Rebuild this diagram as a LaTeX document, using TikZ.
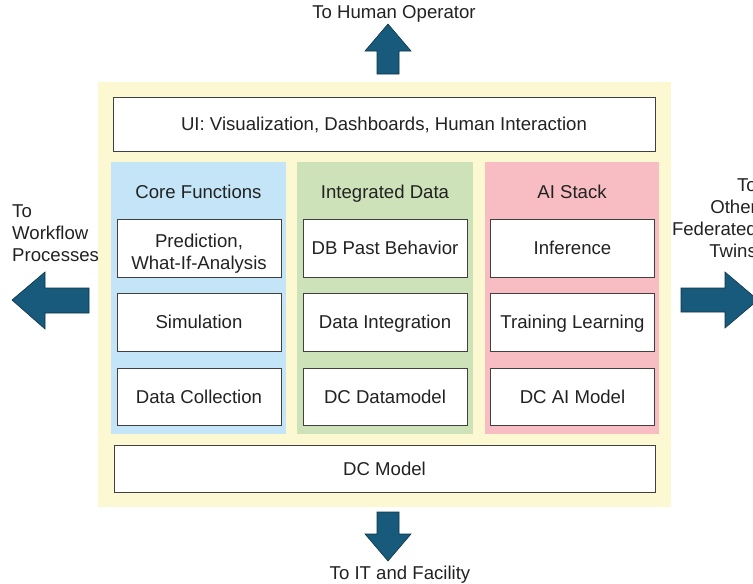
\documentclass[tikz,border=0pt]{standalone}
\usepackage{fontspec}
\setmainfont{Liberation Sans}
\definecolor{bgyellow}{HTML}{FBF8D2}
\definecolor{corebl}{HTML}{C4E5F8}
\definecolor{intgr}{HTML}{CDE2B8}
\definecolor{aipk}{HTML}{F8BDC2}
\definecolor{arrowbl}{HTML}{175A7C}
\definecolor{arrowdk}{HTML}{0E3347}
\definecolor{txt}{HTML}{222222}
\begin{document}
\begin{tikzpicture}[x=1pt,y=-1pt,
  fnt/.style={font=\fontsize{18.6}{22}\selectfont, text=txt, inner sep=0pt},
  lbl/.style={fnt, text height=13.3pt, text depth=0pt},
  wbox/.style={draw=black!75, line width=0.9pt, fill=white, inner sep=0pt, align=center},
  panel/.style={inner sep=0pt},
  blockarrow/.style={fill=arrowbl, draw=arrowdk, line width=0.6pt, line join=miter}]
\useasboundingbox (0,0) rectangle (753,584);
% background
\node[panel, fill=bgyellow, minimum width=573pt, minimum height=425pt] (bg) at (384.5,294.5) {};
% UI box
\node[wbox, lbl, minimum width=542pt, minimum height=54pt] (ui) at (384,124) {UI: Visualization, Dashboards, Human Interaction};
% panels
\node[panel, fill=corebl, minimum width=175pt, minimum height=272pt] (core) at (198.5,298) {};
\node[panel, fill=intgr, minimum width=176pt, minimum height=272pt] (integ) at (385,298) {};
\node[panel, fill=aipk, minimum width=174pt, minimum height=272pt] (ai) at (572,298) {};
% titles
\node[lbl] (coret) at (198.5,192) {Core Functions};
\node[lbl] (integt) at (385,192) {Integrated Data};
\node[lbl] (ait) at (572,192) {AI Stack};
% core boxes
\node[wbox, fnt, minimum width=164pt, minimum height=58pt] (c1) at (199,248) {};
\node[fnt, align=center] (c1t) at (199,254) {Prediction,\\What-If-Analysis};
\node[wbox, lbl, minimum width=164pt, minimum height=58pt] (c2) at (199,322) {Simulation};
\node[wbox, lbl, minimum width=164pt, minimum height=57pt] (c3) at (199,396.5) {Data Collection};
% integrated boxes
\node[wbox, lbl, minimum width=164pt, minimum height=58pt] (i1) at (385,248) {DB Past Behavior};
\node[wbox, lbl, minimum width=164pt, minimum height=58pt] (i2) at (385,322) {Data Integration};
\node[wbox, lbl, minimum width=164pt, minimum height=57pt] (i3) at (385,396.5) {DC Datamodel};
% AI boxes
\node[wbox, lbl, minimum width=164pt, minimum height=58pt] (a1) at (572.5,248) {Inference};
\node[wbox, lbl, minimum width=164pt, minimum height=58pt] (a2) at (572.5,322) {Training Learning};
\node[wbox, lbl, minimum width=164pt, minimum height=57pt] (a3) at (572.5,396.5) {DC AI Model};
% DC model
\node[wbox, lbl, minimum width=541pt, minimum height=47pt] (dc) at (384.5,468.5) {DC Model};
% arrows
\draw[blockarrow] (377,74) -- (377,51) -- (365,51) -- (388,24) -- (411,51) -- (399,51) -- (399,74) -- cycle;
\draw[blockarrow] (377,512) -- (377,534) -- (365,534) -- (388,561) -- (411,534) -- (399,534) -- (399,512) -- cycle;
\draw[blockarrow] (89,288) -- (45,288) -- (45,272) -- (12,300) -- (45,329) -- (45,313) -- (89,313) -- cycle;
\draw[blockarrow] (681,288) -- (725,288) -- (725,272) -- (758,300) -- (725,328) -- (725,312) -- (681,312) -- cycle;
% outside labels
\node[lbl] (top) at (394,12) {To Human Operator};
\node[lbl] (bot) at (400,573) {To IT and Facility};
\node[fnt, align=left, anchor=north west] (left) at (12,204.5) {To\\Workflow\\Processes};
\node[fnt, align=right, anchor=north east] (right) at (757,178.5) {To\\Other\\Federated\\Twins};
\end{tikzpicture}
\end{document}
